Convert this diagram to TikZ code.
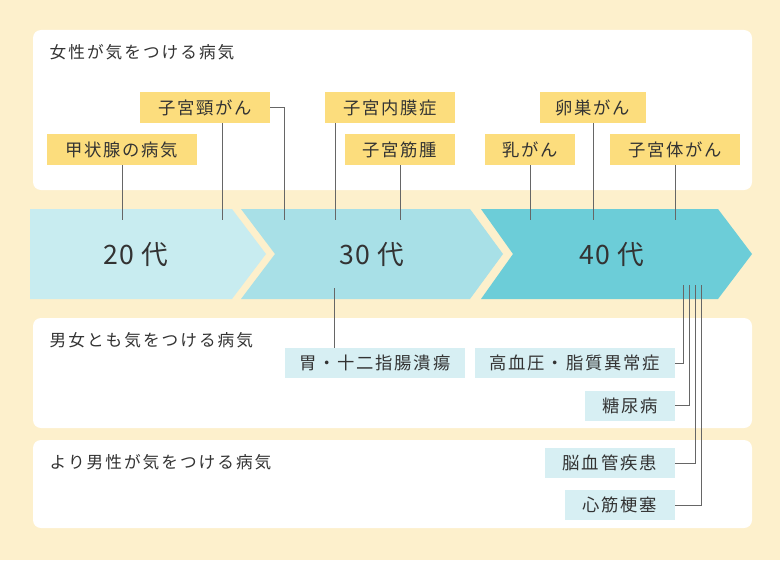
\documentclass[tikz,border=0pt]{standalone}
\usepackage{fontspec}
\setmainfont{Noto Sans CJK JP}
\begin{document}
\begin{tikzpicture}[x=0.75pt,y=-0.75pt,
  ybox/.style={fill=yel,inner sep=0pt,minimum height=23.25pt,font=\fontsize{13}{13}\selectfont\addfontfeatures{LetterSpace=10},text=txt},
  bbox/.style={fill=lblue,inner sep=0pt,minimum height=22.5pt,font=\fontsize{13}{13}\selectfont\addfontfeatures{LetterSpace=10},text=txt},
  ttl/.style={anchor=west,font=\fontsize{12.5}{13}\selectfont\addfontfeatures{LetterSpace=12},text=txt},
  age/.style={font=\fontsize{20}{20}\selectfont\addfontfeatures{LetterSpace=5},text=txt},
  ln/.style={draw=gray!80!black,line width=0.6pt},
  panel/.style={fill=white,rounded corners=6pt}]
\definecolor{bg}{HTML}{FDF0CC}
\definecolor{yel}{HTML}{FCDD7D}
\definecolor{lblue}{HTML}{D7EFF3}
\definecolor{a1}{HTML}{C8ECF0}
\definecolor{a2}{HTML}{A8E0E7}
\definecolor{a3}{HTML}{6CCDD8}
\definecolor{txt}{HTML}{333333}
\fill[bg] (0,0) rectangle (780,560);
\useasboundingbox (0,0) rectangle (780,560);
\fill[panel] (33,30) rectangle (752,190);
\fill[panel] (33,318) rectangle (752,428);
\fill[panel] (33,440) rectangle (752,528);
\node[ttl] (t1) at (45,52) {女性が気をつける病気};
\node[ttl] (t2) at (45,340) {男女とも気をつける病気};
\node[ttl] (t3) at (45,462) {より男性が気をつける病気};
% arrows
\fill[a1] (30,209) -- (232,209) -- (266,254) -- (232,299) -- (30,299) -- cycle;
\fill[a2] (241,209) -- (470,209) -- (503,254) -- (470,299) -- (241,299) -- (275,254) -- cycle;
\fill[a3] (481,209) -- (718,209) -- (752,254) -- (718,299) -- (481,299) -- (513,254) -- cycle;
\node[age] (g20) at (136,255) {20 代};
\node[age] (g30) at (372,255) {30 代};
\node[age] (g40) at (612,255) {40 代};
% yellow boxes
\node[ybox,minimum width=112.5pt] (k1) at (122,149.5) {甲状腺の病気};
\node[ybox,minimum width=97.5pt] (k2) at (205,107.5) {子宮頸がん};
\node[ybox,minimum width=97.5pt] (k3) at (390,107.5) {子宮内膜症};
\node[ybox,minimum width=82.5pt] (k4) at (400,149.5) {子宮筋腫};
\node[ybox,minimum width=67.5pt] (k5) at (530,149.5) {乳がん};
\node[ybox,minimum width=80pt] (k6) at (593,107.5) {卵巣がん};
\node[ybox,minimum width=97.5pt] (k7) at (675,149.5) {子宮体がん};
\coordinate (e1) at (122,220); \coordinate (e2) at (222,220); \coordinate (e2b) at (284,220);
\coordinate (e3) at (335,220); \coordinate (e4) at (400,220); \coordinate (e5) at (530,220);
\coordinate (e6) at (593,220); \coordinate (e7) at (675,220);
\draw[ln] (k1.south) -- (e1);
\draw[ln] (k2.south -| e2) -- (e2);
\draw[ln] (k2.east) -| (e2b);
\draw[ln] (k3.south -| e3) -- (e3);
\draw[ln] (k4.south) -- (e4);
\draw[ln] (k5.south) -- (e5);
\draw[ln] (k6.south) -- (e6);
\draw[ln] (k7.south) -- (e7);
% blue boxes
\node[bbox,minimum width=135pt] (b1) at (375,363) {胃・十二指腸潰瘍};
\node[bbox,minimum width=150pt,anchor=east] (b2) at (675,363) {高血圧・脂質異常症};
\node[bbox,minimum width=67.5pt,anchor=east] (b3) at (675,405.5) {糖尿病};
\node[bbox,minimum width=97.5pt,anchor=east] (b4) at (675,463) {脳血管疾患};
\node[bbox,minimum width=82.5pt,anchor=east] (b5) at (675,505) {心筋梗塞};
\coordinate (s1) at (334,288);
\coordinate (s2) at (683,285); \coordinate (s3) at (689,285);
\coordinate (s4) at (695,285); \coordinate (s5) at (701,285);
\draw[ln] (s1) -- (b1.north -| s1);
\draw[ln] (s2) |- (b2.east);
\draw[ln] (s3) |- (b3.east);
\draw[ln] (s4) |- (b4.east);
\draw[ln] (s5) |- (b5.east);
\end{tikzpicture}
\end{document}
